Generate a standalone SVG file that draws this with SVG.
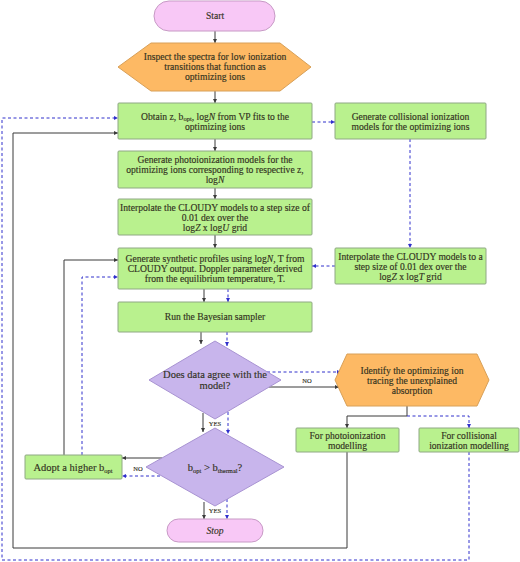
<svg xmlns="http://www.w3.org/2000/svg" width="520" height="562" viewBox="0 0 520 562">
<style>
text{font-family:"Liberation Serif","DejaVu Serif",serif;font-size:9.6px;fill:#33331f;stroke:#33331f;stroke-width:0.15;text-anchor:middle}
.g{fill:#b9f18e;stroke:#8fa884;stroke-width:1}
.p{fill:#f8c8f6;stroke:#c79ac5;stroke-width:1}
.o{fill:#fdb964;stroke:#d8a058;stroke-width:1}
.v{fill:#c8b5ec;stroke:#a893d2;stroke-width:1}
.s{fill:none;stroke:#3a3a3a;stroke-width:1}
.d{fill:none;stroke:#3030cc;stroke-width:1;stroke-dasharray:3,2.5}
.sm{font-size:6.5px}
.big{font-size:10.5px}
</style>
<defs>
<marker id="as" viewBox="0 0 6 6" refX="6" refY="3" markerWidth="4" markerHeight="4" orient="auto"><path d="M0,0L6,3L0,6z" fill="#3a3a3a"/></marker>
<marker id="ad" viewBox="0 0 6 6" refX="6" refY="3" markerWidth="4" markerHeight="4" orient="auto"><path d="M0,0L6,3L0,6z" fill="#3030cc"/></marker>
</defs>
<g id="connectors">
<path class="s" d="M215,31V43" marker-end="url(#as)"/>
<path class="s" d="M215,91V103" marker-end="url(#as)"/>
<path class="s" d="M215,139V151" marker-end="url(#as)"/>
<path class="s" d="M215,188V199" marker-end="url(#as)"/>
<path class="s" d="M215,235V248" marker-end="url(#as)"/>
<path class="s" d="M204,289V302" marker-end="url(#as)"/>
<path class="d" d="M228,289V302" marker-end="url(#ad)"/>
<path class="s" d="M201,332V344" marker-end="url(#as)"/>
<path class="d" d="M227,332V346" marker-end="url(#ad)"/>
<path class="s" d="M203,413V432" marker-end="url(#as)"/>
<path class="d" d="M228,412V434" marker-end="url(#ad)"/>
<path class="s" d="M204,502V519" marker-end="url(#as)"/>
<path class="d" d="M227,499V519" marker-end="url(#ad)"/>
<path class="s" d="M269,387H339" marker-end="url(#as)"/>
<path class="d" d="M267,372H341" marker-end="url(#ad)"/>
<path class="s" d="M162,458H122" marker-end="url(#as)"/>
<path class="d" d="M160,476H122" marker-end="url(#ad)"/>
<path class="s" d="M64,455V260H118" marker-end="url(#as)"/>
<path class="d" d="M82,455V277H118" marker-end="url(#ad)"/>
<path class="d" d="M312,122H335" marker-end="url(#ad)"/>
<path class="d" d="M410,139V248" marker-end="url(#ad)"/>
<path class="d" d="M335,266H312" marker-end="url(#ad)"/>
<path class="s" d="M407,406V416H347V428" marker-end="url(#as)"/>
<path class="d" d="M407,416H469V428" marker-end="url(#ad)"/>
<path class="s" d="M347,452V548H13V133H118" marker-end="url(#as)"/>
<path class="d" d="M469,452V560H2V118H118" marker-end="url(#ad)"/>
</g>
<g id="start"><rect class="p" x="154" y="1" width="121" height="30" rx="15"/><text x="215" y="19">Start</text></g>
<g id="inspect"><polygon class="o" points="118,67 151,43 280,43 311,67 280,91 151,91"/>
<text x="215" y="60">Inspect the spectra for low ionization</text>
<text x="215" y="70">transitions that function as</text>
<text x="215" y="80">optimizing ions</text></g>
<g id="obtain"><rect class="g" x="118" y="103" width="194" height="36" rx="1"/>
<text x="215" y="119.5">Obtain z, b<tspan class="sm" dy="1.5">opt</tspan><tspan dy="-1.5">, log</tspan><tspan font-style="italic">N</tspan> from VP fits to the</text>
<text x="215" y="130">optimizing ions</text></g>
<g id="photo-models"><rect class="g" x="118" y="151" width="194" height="37" rx="1"/>
<text x="215" y="163">Generate photoionization models for the</text>
<text x="215" y="173">optimizing ions corresponding to respective z,</text>
<text x="215" y="183">log<tspan font-style="italic">N</tspan></text></g>
<g id="interp-u"><rect class="g" x="118" y="199" width="194" height="36" rx="1"/>
<text x="215" y="210.5">Interpolate the CLOUDY models to a step size of</text>
<text x="215" y="220.5">0.01 dex over the</text>
<text x="215" y="230.5">log<tspan font-style="italic">Z</tspan> x log<tspan font-style="italic">U</tspan> grid</text></g>
<g id="synthetic"><rect class="g" x="118" y="248" width="194" height="41" rx="1"/>
<text x="215" y="261.5">Generate synthetic profiles using log<tspan font-style="italic">N</tspan>, T from</text>
<text x="215" y="271.5">CLOUDY output. Doppler parameter derived</text>
<text x="215" y="281.5">from the equilibrium temperature, T.</text></g>
<g id="bayes"><rect class="g" x="118" y="302" width="194" height="30" rx="1"/>
<text x="215" y="320">Run the Bayesian sampler</text></g>
<g id="collisional"><rect class="g" x="335" y="103" width="151" height="36" rx="1"/>
<text x="410.5" y="120">Generate collisional ionization</text>
<text x="410.5" y="129.5">models for the optimizing ions</text></g>
<g id="interp-t"><rect class="g" x="335" y="248" width="151" height="36" rx="1"/>
<text x="410.5" y="259.5">Interpolate the CLOUDY models to a</text>
<text x="410.5" y="269.5">step size of 0.01 dex over the</text>
<text x="410.5" y="279.5">log<tspan font-style="italic">Z</tspan> x log<tspan font-style="italic">T</tspan> grid</text></g>
<g id="agree"><polygon class="v" points="215,341 281,380 215,419 149,380"/>
<text class="big" x="215" y="378">Does data agree with the</text>
<text class="big" x="215" y="388.5">model?</text></g>
<g id="identify"><polygon class="o" points="335,380 347,354 477,354 489,380 477,406 347,406"/>
<text x="412" y="374">Identify the optimizing ion</text>
<text x="412" y="384">tracing the unexplained</text>
<text x="412" y="394">absorption</text></g>
<g id="for-photo"><rect class="g" x="296" y="428" width="103" height="24" rx="1"/>
<text x="347.5" y="439">For photoionization</text>
<text x="347.5" y="448.5">modelling</text></g>
<g id="for-coll"><rect class="g" x="419" y="428" width="100" height="24" rx="1"/>
<text x="469" y="439">For collisional</text>
<text x="469" y="448.5">ionization modelling</text></g>
<g id="adopt"><rect class="g" x="25" y="455" width="97" height="24" rx="1"/>
<text class="big" x="73" y="471">Adopt a higher b<tspan class="sm" dy="2">opt</tspan></text></g>
<g id="bcheck"><polygon class="v" points="215,428 284,467 215,506 146,467"/>
<text class="big" x="215" y="471">b<tspan class="sm" dy="2">opt</tspan><tspan dy="-2"> &gt; b</tspan><tspan class="sm" dy="2">thermal</tspan><tspan dy="-2">?</tspan></text></g>
<g id="stop"><rect class="p" x="167" y="519" width="96" height="23" rx="11.5"/>
<text x="215" y="533.5" font-style="italic" font-size="8">Stop</text></g>
<g id="labels">
<text class="sm" x="307" y="383">NO</text>
<text class="sm" x="138" y="471">NO</text>
<text class="sm" x="215" y="426">YES</text>
<text class="sm" x="215" y="513">YES</text>
</g>
</svg>
